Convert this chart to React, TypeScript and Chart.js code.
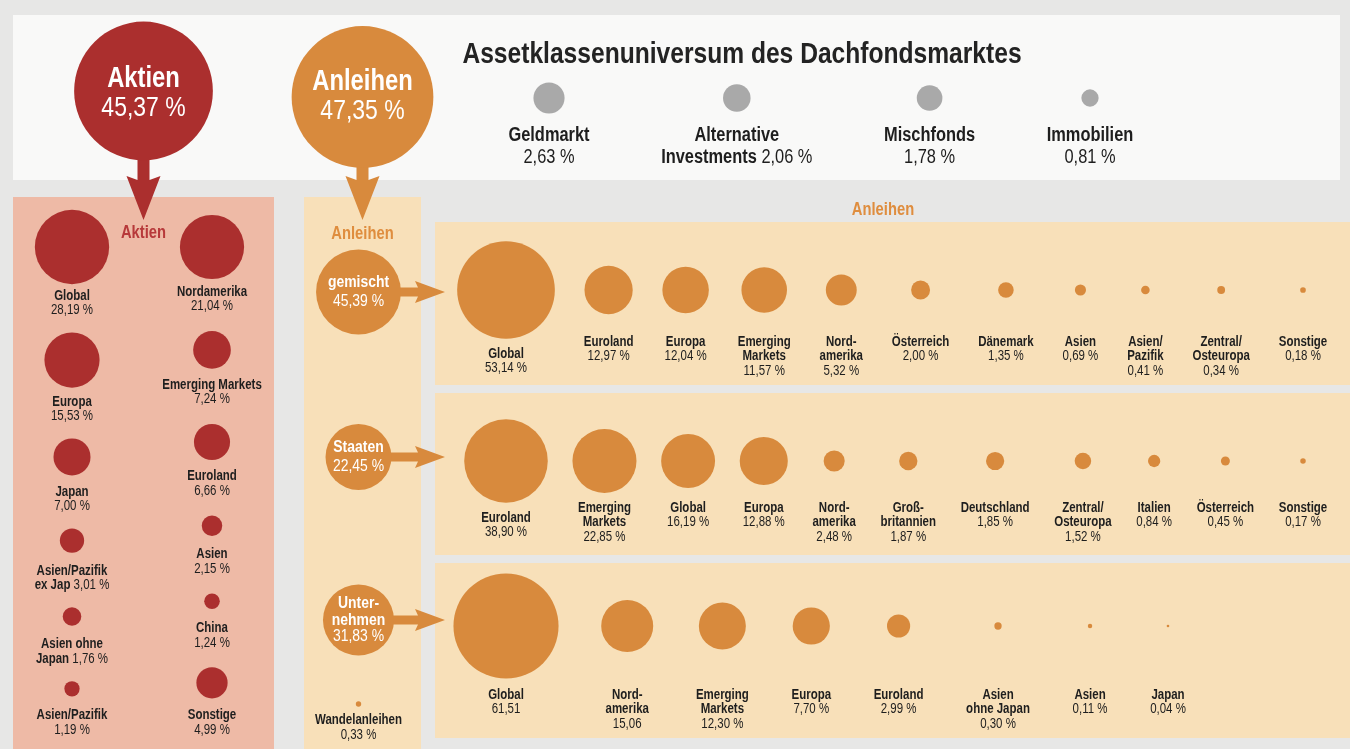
import React, { useEffect, useRef } from "react";
import { Chart, registerables } from "chart.js";

Chart.register(...registerables);

// ---------------- DATA ----------------
const title = "Assetklassenuniversum des Dachfondsmarktes";

const mainClasses = ["Aktien", "Anleihen"];
const mainShares = [45.37, 47.35];

const minorClasses = ["Geldmarkt", "Alternative\nInvestments", "Mischfonds", "Immobilien"];
const minorShares = [2.63, 2.06, 1.78, 0.81];

const aktienRegions = [
  "Global", "Nordamerika", "Europa", "Emerging Markets", "Japan", "Euroland",
  "Asien/Pazifik\nex Jap", "Asien", "Asien ohne\nJapan", "China", "Asien/Pazifik", "Sonstige",
];
const aktienShares = [28.19, 21.04, 15.53, 7.24, 7.0, 6.66, 3.01, 2.15, 1.76, 1.24, 1.19, 4.99];

const anleihenTypes = ["gemischt", "Staaten", "Unter-\nnehmen"];
const anleihenTypeShares = [45.39, 22.45, 31.83];
const wandelLabel = "Wandelanleihen";
const wandelShare = 0.33;

const gemischtRegions = [
  "Global", "Euroland", "Europa", "Emerging\nMarkets", "Nord-\namerika", "Österreich",
  "Dänemark", "Asien", "Asien/\nPazifik", "Zentral/\nOsteuropa", "Sonstige",
];
const gemischtShares = [53.14, 12.97, 12.04, 11.57, 5.32, 2.0, 1.35, 0.69, 0.41, 0.34, 0.18];

const staatenRegions = [
  "Euroland", "Emerging\nMarkets", "Global", "Europa", "Nord-\namerika", "Groß-\nbritannien",
  "Deutschland", "Zentral/\nOsteuropa", "Italien", "Österreich", "Sonstige",
];
const staatenShares = [38.9, 22.85, 16.19, 12.88, 2.48, 1.87, 1.85, 1.52, 0.84, 0.45, 0.17];

const unternehmenRegions = [
  "Global", "Nord-\namerika", "Emerging\nMarkets", "Europa", "Euroland",
  "Asien\nohne Japan", "Asien", "Japan",
];
const unternehmenShares = [61.51, 15.06, 12.3, 7.7, 2.99, 0.3, 0.11, 0.04];
const unternehmenUnits = ["", "", " %", " %", " %", " %", " %", " %"];

// ---------------- STYLE / LAYOUT ----------------
const W = 1350;
const H = 749;
const SQ = 0.82; // condensed look
const FONT = '"Liberation Sans", Arial, Helvetica, sans-serif';
const COL = {
  bg: "#e7e7e6",
  white: "#f9f9f8",
  pink: "#eebaa6",
  peach: "#f8e0b9",
  red: "#ab2f2e",
  orange: "#d88a3d",
  gray: "#a9a9a9",
  text: "#1e1e1e",
  headRed: "#b7393a",
  headOrange: "#df8d3e",
};
const LAYOUT = {
  topPanel: [13, 15, 1340, 180],
  aktienPanel: [13, 197, 274, 749],
  anlColumn: [304, 197, 421, 749],
  rowPanels: [
    [435, 222, 1350, 385],
    [435, 393, 1350, 555],
    [435, 563, 1350, 738],
  ],
  rowCY: [290, 461, 626],
  rowLabelY: [342, 508, 695],
  rowFirstX: 506,
  rowLastX: [1303, 1303, 1168],
  mainCY: [91, 97],
  minorCY: 98,
  minorLabelY: 135,
  minorFirstX: 549,
  minorLastX: 1090,
  aktienColX: [72, 212],
  aktienTopCY: 247,
  aktienBottomLine: 730,
  typeCY: [292, 457, 620],
  wandelCY: 704,
  vArrowHeadTop: 176,
  vArrowTip: 220,
  hArrowHeadStart: 415,
  hArrowTip: 445,
  titleX: 742,
  titleY: 55,
  anlHeadX: 883,
  anlHeadY: 210,
  colHeadY: 234,
};

const K_MAIN = 10.3;
const K_MINOR = 9.6;
const K_AKTIEN = 7;
const K_TYPE = 6.3;
const K_ROW = 6.7;

const fmt = (v: number, unit = " %") => v.toFixed(2).replace(".", ",") + unit;

function setFont(ctx: CanvasRenderingContext2D, size: number, bold: boolean) {
  ctx.font = `${bold ? "bold " : ""}${size}px ${FONT}`;
}
function textW(ctx: CanvasRenderingContext2D, s: string, size: number, bold: boolean) {
  setFont(ctx, size, bold);
  return ctx.measureText(s).width * SQ;
}
function drawT(
  ctx: CanvasRenderingContext2D, s: string, x: number, y: number, size: number,
  bold: boolean, color: string, align: CanvasTextAlign = "center",
) {
  ctx.save();
  setFont(ctx, size, bold);
  ctx.fillStyle = color;
  ctx.textBaseline = "middle";
  ctx.textAlign = align;
  ctx.translate(x, y);
  ctx.scale(SQ, 1);
  ctx.fillText(s, 0, 0);
  ctx.restore();
}
function drawMixed(ctx: CanvasRenderingContext2D, b: string, r: string, x: number, y: number, size: number, color: string) {
  const wb = textW(ctx, b + " ", size, true);
  const wr = textW(ctx, r, size, false);
  const start = x - (wb + wr) / 2;
  drawT(ctx, b + " ", start, y, size, true, color, "left");
  drawT(ctx, r, start + wb, y, size, false, color, "left");
}
function labelBlock(
  ctx: CanvasRenderingContext2D, name: string, value: string, x: number, y: number,
  size: number, lh: number, color: string, inline: boolean,
) {
  const lines = name.split("\n");
  if (inline && lines.length > 1) {
    lines.forEach((ln, i) => {
      if (i < lines.length - 1) drawT(ctx, ln, x, y + i * lh, size, true, color);
      else drawMixed(ctx, ln, value, x, y + i * lh, size, color);
    });
  } else {
    lines.forEach((ln, i) => drawT(ctx, ln, x, y + i * lh, size, true, color));
    drawT(ctx, value, x, y + lines.length * lh, size, false, color);
  }
}
function labelWidth(ctx: CanvasRenderingContext2D, name: string, value: string, size: number, inline: boolean) {
  const lines = name.split("\n");
  let w = 0;
  if (inline && lines.length > 1) {
    lines.forEach((ln, i) => {
      const lw = i < lines.length - 1 ? textW(ctx, ln, size, true) : textW(ctx, ln + " ", size, true) + textW(ctx, value, size, false);
      w = Math.max(w, lw);
    });
  } else {
    lines.forEach((ln) => (w = Math.max(w, textW(ctx, ln, size, true))));
    w = Math.max(w, textW(ctx, value, size, false));
  }
  return w;
}
function justify(widths: number[], first: number, last: number) {
  const n = widths.length;
  let sum = 0;
  for (let i = 0; i < n - 1; i++) sum += (widths[i] + widths[i + 1]) / 2;
  const gap = n > 1 ? (last - first - sum) / (n - 1) : 0;
  const xs = [first];
  for (let i = 1; i < n; i++) xs.push(xs[i - 1] + (widths[i - 1] + widths[i]) / 2 + gap);
  return xs;
}
function rect(ctx: CanvasRenderingContext2D, r: number[], color: string) {
  ctx.fillStyle = color;
  ctx.fillRect(r[0], r[1], r[2] - r[0], r[3] - r[1]);
}
function vArrow(ctx: CanvasRenderingContext2D, x: number, y0: number, headTop: number, tip: number, color: string) {
  const sw = 12, hh = 17;
  ctx.fillStyle = color;
  ctx.beginPath();
  ctx.moveTo(x - sw / 2, y0);
  ctx.lineTo(x + sw / 2, y0);
  ctx.lineTo(x + sw / 2, headTop + 4);
  ctx.lineTo(x + hh, headTop);
  ctx.lineTo(x, tip);
  ctx.lineTo(x - hh, headTop);
  ctx.lineTo(x - sw / 2, headTop + 4);
  ctx.closePath();
  ctx.fill();
}
function hArrow(ctx: CanvasRenderingContext2D, x0: number, y: number, headStart: number, tip: number, color: string) {
  const sw = 9, hh = 11;
  ctx.fillStyle = color;
  ctx.beginPath();
  ctx.moveTo(x0, y - sw / 2);
  ctx.lineTo(headStart + 3, y - sw / 2);
  ctx.lineTo(headStart, y - hh);
  ctx.lineTo(tip, y);
  ctx.lineTo(headStart, y + hh);
  ctx.lineTo(headStart + 3, y + sw / 2);
  ctx.lineTo(x0, y + sw / 2);
  ctx.closePath();
  ctx.fill();
}

export default function App() {
  const ref = useRef<HTMLCanvasElement>(null);

  useEffect(() => {
    document.body.style.margin = "0";
    const canvas = ref.current!;
    const mctx = canvas.getContext("2d")!;

    // ---- main circles ----
    const mainX = [
      (LAYOUT.aktienPanel[0] + LAYOUT.aktienPanel[2]) / 2,
      (LAYOUT.anlColumn[0] + LAYOUT.anlColumn[2]) / 2,
    ];
    const mainPts = mainShares.map((v, i) => ({ x: mainX[i], y: LAYOUT.mainCY[i], r: K_MAIN * Math.sqrt(v) }));

    // ---- minor classes ----
    const minorR = minorShares.map((v) => K_MINOR * Math.sqrt(v));
    const minorW = minorClasses.map((n, i) => Math.max(2 * minorR[i], labelWidth(mctx, n, fmt(minorShares[i]), 20, true)));
    const minorX = justify(minorW, LAYOUT.minorFirstX, LAYOUT.minorLastX);
    const minorPts = minorShares.map((_, i) => ({ x: minorX[i], y: LAYOUT.minorCY, r: minorR[i] }));

    // ---- Aktien columns ----
    const LH = 14.5;
    const aktR = aktienShares.map((v) => K_AKTIEN * Math.sqrt(v));
    const aktLines = aktienRegions.map((n) => Math.max(2, n.split("\n").length));
    const aktOff = (r: number) => 0.75 * r + 21;
    const aktY: number[] = new Array(aktienShares.length).fill(0);
    const aktX: number[] = new Array(aktienShares.length).fill(0);
    [0, 1].forEach((col) => {
      const idx = aktienShares.map((_, i) => i).filter((i) => i % 2 === col);
      const place = (gap: number) => {
        const ys: number[] = [];
        let last = 0;
        idx.forEach((i, k) => {
          const y = k === 0 ? LAYOUT.aktienTopCY : last + gap + aktR[i];
          ys.push(y);
          last = y + aktOff(aktR[i]) + (aktLines[i] - 1) * LH;
        });
        return { ys, last };
      };
      const p0 = place(0);
      const gap = (LAYOUT.aktienBottomLine - p0.last) / (idx.length - 1);
      const p = place(gap);
      idx.forEach((i, k) => {
        aktY[i] = p.ys[k];
        aktX[i] = LAYOUT.aktienColX[col];
      });
    });
    const aktPts = aktienShares.map((_, i) => ({ x: aktX[i], y: aktY[i], r: aktR[i] }));

    // ---- Anleihen type circles ----
    const colX = (LAYOUT.anlColumn[0] + LAYOUT.anlColumn[2]) / 2 - 4;
    const typeR = anleihenTypeShares.map((v) => Math.max(33, K_TYPE * Math.sqrt(v)));
    const typePts = anleihenTypeShares.map((_, i) => ({ x: colX, y: LAYOUT.typeCY[i], r: typeR[i] }));
    const wandelPts = [{ x: colX, y: LAYOUT.wandelCY, r: Math.max(2, K_ROW * Math.sqrt(wandelShare) * 0.7) }];

    // ---- Anleihen rows ----
    const rowsDef = [
      { names: gemischtRegions, vals: gemischtShares, units: gemischtShares.map(() => " %") },
      { names: staatenRegions, vals: staatenShares, units: staatenShares.map(() => " %") },
      { names: unternehmenRegions, vals: unternehmenShares, units: unternehmenUnits },
    ];
    const rows = rowsDef.map((rd, ri) => {
      const rs = rd.vals.map((v) => K_ROW * Math.sqrt(v));
      const ws = rd.names.map((n, i) => Math.max(2 * rs[i], labelWidth(mctx, n, fmt(rd.vals[i], rd.units[i]), 14, false)));
      const xs = justify(ws, LAYOUT.rowFirstX, LAYOUT.rowLastX[ri]);
      return {
        ...rd,
        rs,
        pts: rd.vals.map((_, i) => ({ x: xs[i], y: LAYOUT.rowCY[ri], r: rs[i] })),
      };
    });

    const infographic = {
      id: "infographic",
      beforeDraw(chart: any) {
        const ctx: CanvasRenderingContext2D = chart.ctx;
        ctx.save();
        rect(ctx, [0, 0, W, H], COL.bg);
        rect(ctx, LAYOUT.topPanel, COL.white);
        rect(ctx, LAYOUT.aktienPanel, COL.pink);
        rect(ctx, LAYOUT.anlColumn, COL.peach);
        LAYOUT.rowPanels.forEach((p) => rect(ctx, p, COL.peach));
        ctx.restore();
      },
      beforeDatasetsDraw(chart: any) {
        const ctx: CanvasRenderingContext2D = chart.ctx;
        ctx.save();
        const mainMeta = chart.getDatasetMeta(0).data;
        vArrow(ctx, mainMeta[0].x, mainMeta[0].y, LAYOUT.vArrowHeadTop, LAYOUT.vArrowTip, COL.red);
        vArrow(ctx, mainMeta[1].x, mainMeta[1].y, LAYOUT.vArrowHeadTop, LAYOUT.vArrowTip, COL.orange);
        const typeMeta = chart.getDatasetMeta(3).data;
        typeMeta.forEach((el: any) => hArrow(ctx, el.x, el.y, LAYOUT.hArrowHeadStart, LAYOUT.hArrowTip, COL.orange));
        ctx.restore();
      },
      afterDatasetsDraw(chart: any) {
        const ctx: CanvasRenderingContext2D = chart.ctx;
        ctx.save();
        // title
        drawT(ctx, title, LAYOUT.titleX, LAYOUT.titleY, 30, true, "#232323");
        // main circles text
        chart.getDatasetMeta(0).data.forEach((el: any, i: number) => {
          const dy = i === 0 ? 0 : -3;
          drawT(ctx, mainClasses[i], el.x, el.y - 12 + dy, 29, true, "#ffffff");
          drawT(ctx, fmt(mainShares[i]), el.x, el.y + 17 + dy, 28, false, "#ffffff");
        });
        // minor labels
        chart.getDatasetMeta(1).data.forEach((el: any, i: number) => {
          labelBlock(ctx, minorClasses[i], fmt(minorShares[i]), el.x, LAYOUT.minorLabelY, 20, 22, COL.text, true);
        });
        // panel headers
        drawT(ctx, "Aktien", mainPts[0].x, LAYOUT.colHeadY - 1, 18, true, COL.headRed);
        drawT(ctx, "Anleihen", mainPts[1].x, LAYOUT.colHeadY, 18, true, COL.headOrange);
        drawT(ctx, "Anleihen", LAYOUT.anlHeadX, LAYOUT.anlHeadY, 18, true, COL.headOrange);
        // Aktien labels
        chart.getDatasetMeta(2).data.forEach((el: any, i: number) => {
          labelBlock(ctx, aktienRegions[i], fmt(aktienShares[i]), el.x, el.y + aktOff(aktR[i]), 14, LH, COL.text, true);
        });
        // type circles text
        chart.getDatasetMeta(3).data.forEach((el: any, i: number) => {
          const lines = anleihenTypes[i].split("\n");
          const lh = lines.length > 1 ? 16.5 : 19;
          const total = lines.length + 1;
          const y0 = el.y - ((total - 1) * lh) / 2;
          lines.forEach((ln, k) => drawT(ctx, ln, el.x, y0 + k * lh, 17, true, "#ffffff"));
          drawT(ctx, fmt(anleihenTypeShares[i]), el.x, y0 + lines.length * lh, 17, false, "#ffffff");
        });
        // Wandelanleihen
        chart.getDatasetMeta(4).data.forEach((el: any) => {
          labelBlock(ctx, wandelLabel, fmt(wandelShare), el.x, el.y + 16, 14, 15.5, COL.text, false);
        });
        // rows
        rows.forEach((row, ri) => {
          chart.getDatasetMeta(5 + ri).data.forEach((el: any, i: number) => {
            const y = Math.max(LAYOUT.rowLabelY[ri], el.y + row.rs[i] + 15);
            labelBlock(ctx, row.names[i], fmt(row.vals[i], row.units[i]), el.x, y, 14, LH, COL.text, false);
          });
        });
        ctx.restore();
      },
    };

    const bubble = (label: string, data: any[], color: string | string[]) => ({
      label,
      data,
      backgroundColor: color,
      borderWidth: 0,
      hoverRadius: 0,
      clip: false,
    });

    const chart = new Chart(canvas, {
      type: "bubble",
      data: {
        datasets: [
          bubble("Anlageklassen", mainPts, [COL.red, COL.orange]),
          bubble("Weitere Anlageklassen", minorPts, COL.gray),
          bubble("Aktien", aktPts, COL.red),
          bubble("Anleihen-Arten", typePts, COL.orange),
          bubble("Wandelanleihen", wandelPts, COL.orange),
          bubble("Anleihen gemischt", rows[0].pts, COL.orange),
          bubble("Anleihen Staaten", rows[1].pts, COL.orange),
          bubble("Anleihen Unternehmen", rows[2].pts, COL.orange),
        ],
      },
      options: {
        animation: false,
        responsive: false,
        devicePixelRatio: 1,
        events: [],
        layout: { padding: 0, autoPadding: false },
        plugins: { legend: { display: false }, tooltip: { enabled: false } },
        scales: {
          x: { type: "linear", min: 0, max: W, display: false },
          y: { type: "linear", min: 0, max: H, reverse: true, display: false },
        },
      } as any,
      plugins: [infographic as any],
    });
    return () => chart.destroy();
  }, []);

  return <canvas ref={ref} width={W} height={H} style={{ display: "block" }} />;
}
